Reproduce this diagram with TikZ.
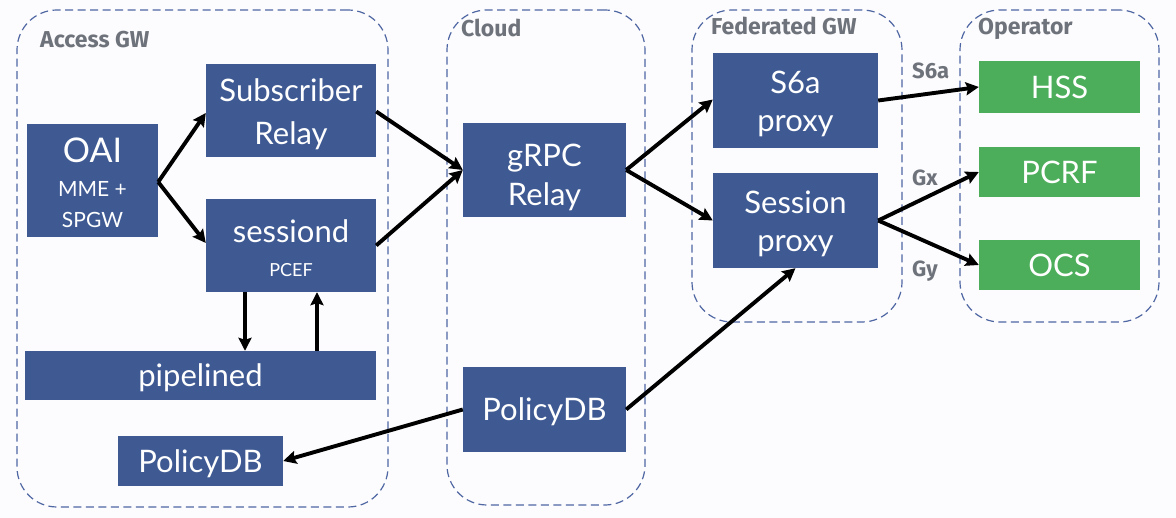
\documentclass[tikz,border=0pt]{standalone}
\usepackage{fontspec}
\setmainfont{Lato}
\newfontfamily\labfont{Fira Sans}
\usetikzlibrary{arrows.meta}
\definecolor{boxblue}{HTML}{3F5A93}
\definecolor{boxgreen}{HTML}{4CAE5B}
\definecolor{contline}{HTML}{4F67A3}
\definecolor{labgray}{HTML}{6E737B}
\definecolor{bgcol}{HTML}{FCFBFD}
% vertical strut: height #1pt, depth #2pt
\newcommand{\vst}[2]{\rule[-#2pt]{0pt}{\dimexpr#1pt+#2pt\relax}}
\tikzset{
  cont/.style={draw=contline, dash pattern=on 8pt off 4.5pt, line width=1.2pt, rounded corners=40pt, inner sep=0pt},
  bluebox/.style={fill=boxblue, text=white, inner sep=0pt, align=center, font=\fontsize{31}{38}\selectfont},
  greenbox/.style={fill=boxgreen, text=white, inner sep=0pt, align=center, font=\fontsize{31}{36}\selectfont},
  contlab/.style={text=labgray, font=\labfont\bfseries\fontsize{23}{26}\selectfont, anchor=base west, inner sep=0pt},
  iflab/.style={text=labgray, font=\labfont\bfseries\fontsize{22}{26}\selectfont, anchor=base west, inner sep=0pt},
  arr/.style={-{Stealth[length=13pt,width=13pt,inset=2pt]}, line width=3.9pt, black},
}
\begin{document}
\begin{tikzpicture}[x=1pt,y=-1pt]
\fill[bgcol] (0,0) rectangle (1176,518);
\useasboundingbox (0,0) rectangle (1176,518);
% containers
\node[cont, minimum width=371pt, minimum height=497pt] (access) at (202.5,258.5) {};
\node[cont, minimum width=198pt, minimum height=495pt] (cloud) at (546,257.5) {};
\node[cont, minimum width=210pt, minimum height=312pt] (fed) at (797,166) {};
\node[cont, minimum width=199pt, minimum height=312pt] (oper) at (1059.5,166) {};
\node[contlab] (laccess) at (40,48) {Access GW};
\node[contlab] (lcloud) at (461,37) {Cloud};
\node[contlab] (lfed) at (711,35) {Federated GW};
\node[contlab] (loper) at (978,35) {Operator};
% nodes
\node[bluebox, minimum width=131pt, minimum height=113pt, font=\fontsize{21}{31}\selectfont] (oai) at (92.5,180.5)
  {\vst{37}{0}{\fontsize{34}{36}\selectfont OAI}\\[3pt]MME +\\SPGW\vst{0}{7}};
\node[bluebox, minimum width=170pt, minimum height=93pt, font=\fontsize{31}{43}\selectfont] (sub) at (291,110.5)
  {\vst{33}{0}Subscriber\\Relay\vst{0}{7}};
\node[bluebox, minimum width=170pt, minimum height=93pt, font=\fontsize{18}{34}\selectfont] (sess) at (291,245.5)
  {\vst{36}{0}{\fontsize{31}{34}\selectfont sessiond}\\PCEF\vst{0}{7}};
\node[bluebox, minimum width=351pt, minimum height=49pt] (pipe) at (200.5,375.5) {\vst{30}{7}pipelined};
\node[bluebox, minimum width=165pt, minimum height=50pt] (pdbl) at (200.5,461) {\vst{30}{7}PolicyDB};
\node[bluebox, minimum width=163pt, minimum height=94pt, font=\fontsize{31}{39}\selectfont] (grpc) at (544.5,170)
  {\vst{39}{0}gRPC\\Relay\vst{0}{7}};
\node[bluebox, minimum width=163pt, minimum height=85pt] (pdbc) at (544.5,409.5) {\vst{30}{7}PolicyDB};
\node[bluebox, minimum width=165pt, minimum height=95pt] (s6a) at (795.5,100.5) {\vst{31}{0}S6a\\proxy\vst{0}{7}};
\node[bluebox, minimum width=165pt, minimum height=95pt] (sproxy) at (795.5,220.5) {\vst{31}{0}Session\\proxy\vst{0}{7}};
\node[greenbox, minimum width=161pt, minimum height=52pt] (hss) at (1059.5,87) {\vst{30}{7}HSS};
\node[greenbox, minimum width=161pt, minimum height=50pt] (pcrf) at (1059.5,172) {\vst{30}{7}PCRF};
\node[greenbox, minimum width=161pt, minimum height=50pt] (ocs) at (1059.5,265) {\vst{30}{7}OCS};
% interface labels
\node[iflab] (ls6a) at (912,79) {S6a};
\node[iflab] (lgx) at (912,186) {Gx};
\node[iflab] (lgy) at (912,277) {Gy};
% connectors
\coordinate (oaie) at ([yshift=-1.5pt]oai.east);
\draw[arr] (oaie) -- ([yshift=-2.5pt]sub.west);
\draw[arr] (oaie) -- ([yshift=2.5pt]sess.west);
\draw[arr] ([yshift=-1pt]sub.east) -- (grpc.west);
\draw[arr] (sess.east) -- (grpc.west);
\draw[arr] (grpc.east) -- ([yshift=1pt]s6a.west);
\draw[arr] (grpc.east) -- (sproxy.west);
\draw[arr] (s6a.east) -- (hss.west);
\draw[arr] (sproxy.east) -- (pcrf.west);
\draw[arr] (sproxy.east) -- (ocs.west);
\draw[arr] (sess.south -| 245,0) -- (pipe.north -| 245,0);
\draw[arr] (pipe.north -| 317,0) -- (sess.south -| 317,0);
\draw[arr] (pdbc.west) -- (pdbl.east);
\draw[arr] (pdbc.east) -- (sproxy.south);
\end{tikzpicture}
\end{document}
